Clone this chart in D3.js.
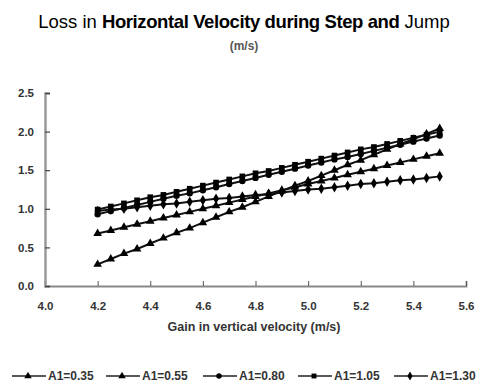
<!DOCTYPE html>
<html>
<head>
<meta charset="utf-8">
<script src="https://cdn.jsdelivr.net/npm/d3@7"></script>
<style>
  html, body { margin: 0; padding: 0; background: #fff; }
  svg { display: block; font-family: 'Liberation Sans', Arial, sans-serif; }
</style>
</head>
<body>
<div id="chart"></div>
<script>
const gainX = [4.20, 4.25, 4.30, 4.35, 4.40, 4.45, 4.50, 4.55, 4.60, 4.65, 4.70, 4.75, 4.80, 4.85,
               4.90, 4.95, 5.00, 5.05, 5.10, 5.15, 5.20, 5.25, 5.30, 5.35, 5.40, 5.45, 5.50];

const seriesNames = ["A1=0.35", "A1=0.55", "A1=0.80", "A1=1.05", "A1=1.30"];

const lossA035 = [0.28, 0.35, 0.42, 0.48, 0.55, 0.62, 0.69, 0.75, 0.82, 0.89, 0.96, 1.02, 1.09, 1.16,
                  1.23, 1.30, 1.36, 1.43, 1.50, 1.57, 1.63, 1.70, 1.77, 1.84, 1.90, 1.97, 2.04];
const lossA055 = [0.68, 0.72, 0.76, 0.80, 0.84, 0.88, 0.92, 0.96, 1.00, 1.04, 1.08, 1.12, 1.16, 1.20,
                  1.24, 1.28, 1.32, 1.36, 1.40, 1.44, 1.48, 1.52, 1.56, 1.60, 1.64, 1.68, 1.72];
const lossA080 = [0.93, 0.97, 1.01, 1.05, 1.09, 1.13, 1.17, 1.20, 1.24, 1.28, 1.32, 1.36, 1.40, 1.44,
                  1.48, 1.52, 1.56, 1.60, 1.64, 1.67, 1.71, 1.75, 1.79, 1.83, 1.87, 1.91, 1.95];
const lossA105 = [0.99, 1.03, 1.07, 1.11, 1.15, 1.18, 1.22, 1.26, 1.30, 1.34, 1.38, 1.42, 1.46, 1.49,
                  1.53, 1.57, 1.61, 1.65, 1.69, 1.73, 1.77, 1.80, 1.84, 1.88, 1.92, 1.96, 2.00];
const lossA130 = [0.97, 0.99, 1.00, 1.02, 1.04, 1.06, 1.07, 1.09, 1.11, 1.13, 1.14, 1.16, 1.18, 1.19,
                  1.21, 1.23, 1.25, 1.26, 1.28, 1.30, 1.32, 1.33, 1.35, 1.37, 1.38, 1.40, 1.42];

const xTicks = [4.0, 4.2, 4.4, 4.6, 4.8, 5.0, 5.2, 5.4, 5.6];
const yTicks = [0.0, 0.5, 1.0, 1.5, 2.0, 2.5];

const allSeries = [lossA035, lossA055, lossA080, lossA105, lossA130];
const symbols = [d3.symbolTriangle, d3.symbolTriangle, d3.symbolCircle, d3.symbolSquare, d3.symbolDiamond];

const width = 484, height = 383;
const margin = { top: 93, right: 18, bottom: 97, left: 45 };

const svg = d3.select("#chart").append("svg")
  .attr("width", width)
  .attr("height", height);

// title
const title = svg.append("text")
  .attr("x", 244).attr("y", 28)
  .attr("text-anchor", "middle")
  .style("font-size", "18.5px")
  .attr("fill", "#000");
title.append("tspan").text("Loss in ");
title.append("tspan").style("font-weight", "bold").attr("letter-spacing", "-0.4").text("Horizontal Velocity during Step and");
title.append("tspan").text(" Jump");

svg.append("text")
  .attr("x", 244).attr("y", 50)
  .attr("text-anchor", "middle")
  .style("font-size", "12px")
  .style("font-weight", "bold")
  .attr("fill", "#555")
  .text("(m/s)");

const x = d3.scaleLinear().domain([4.0, 5.6]).range([margin.left, width - margin.right]);
const y = d3.scaleLinear().domain([0, 2.5]).range([height - margin.bottom, margin.top]);

const tickFont = sel => sel
  .style("font-size", "11.5px").style("font-weight", "bold").attr("fill", "#333")
  .style("font-family", "'Liberation Sans', Arial, sans-serif");

// x axis
const xAxis = svg.append("g")
  .attr("transform", `translate(0,${y(0)})`)
  .call(d3.axisBottom(x).tickValues(xTicks).tickSize(-5).tickFormat(d3.format(".1f")).tickPadding(16));
xAxis.select(".domain").attr("stroke", "#888").attr("stroke-width", 1.8);
xAxis.selectAll(".tick line").attr("stroke", "#555");
xAxis.selectAll(".tick text").call(tickFont);

// y axis
const yAxis = svg.append("g")
  .attr("transform", `translate(${x(4.0)},0)`)
  .call(d3.axisLeft(y).tickValues(yTicks).tickSize(-5).tickFormat(d3.format(".1f")).tickPadding(11));
yAxis.select(".domain").attr("stroke", "#999").attr("stroke-width", 2.5);
yAxis.selectAll(".tick line").attr("stroke", "#444").attr("stroke-width", 1.2);
yAxis.selectAll(".tick text").call(tickFont);

// x axis title
svg.append("text")
  .attr("x", 254).attr("y", 331)
  .attr("text-anchor", "middle")
  .style("font-size", "12.5px")
  .style("font-weight", "bold")
  .attr("fill", "#333")
  .text("Gain in vertical velocity (m/s)");

// series
const line = d3.line().x((d, i) => x(gainX[i])).y(d => y(d));

allSeries.forEach((vals, si) => {
  svg.append("path")
    .datum(vals)
    .attr("fill", "none")
    .attr("stroke", "#111")
    .attr("stroke-width", 2)
    .attr("d", line);

  svg.append("g").selectAll("path")
    .data(vals)
    .join("path")
    .attr("transform", (d, i) => `translate(${x(gainX[i])},${y(d)})`)
    .attr("d", d3.symbol().type(symbols[si]).size(32))
    .attr("fill", "#000");
});

// legend
const legendX = [12, 106, 203, 298, 394];
const legend = svg.append("g").attr("transform", "translate(0,376)");
seriesNames.forEach((name, i) => {
  const g = legend.append("g").attr("transform", `translate(${legendX[i]},0)`);
  g.append("line").attr("x1", 0).attr("x2", 34).attr("y1", 0).attr("y2", 0)
    .attr("stroke", "#222").attr("stroke-width", 1.4);
  g.append("path").attr("transform", "translate(16,0)")
    .attr("d", d3.symbol().type(symbols[i]).size(24)).attr("fill", "#000");
  g.append("text").attr("x", 36).attr("y", 4)
    .style("font-size", "12px").style("font-weight", "bold").attr("fill", "#333")
    .text(name);
});
</script>
</body>
</html>
